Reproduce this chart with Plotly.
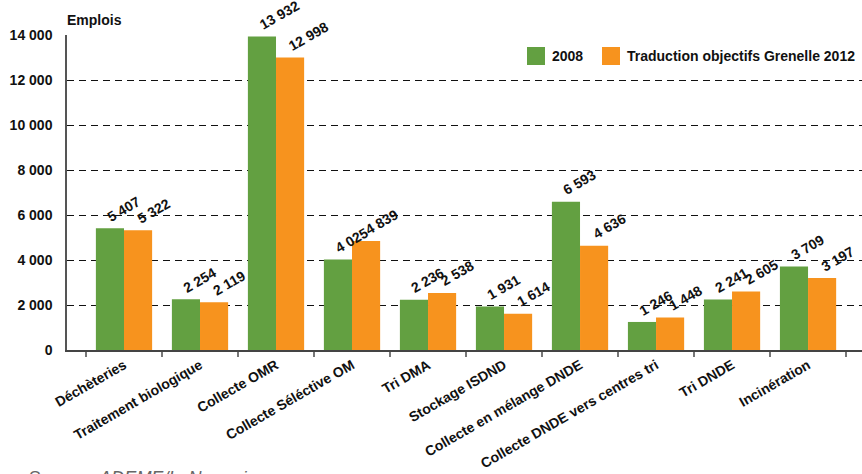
import plotly.graph_objects as go

categories = ["Déchèteries", "Traitement biologique", "Collecte OMR", "Collecte Séléctive OM",
              "Tri DMA", "Stockage ISDND", "Collecte en mélange DNDE",
              "Collecte DNDE vers centres tri", "Tri DNDE", "Incinération"]
series_names = ["2008", "Traduction objectifs Grenelle 2012"]
values_2008 = [5407, 2254, 13932, 4025, 2236, 1931, 6593, 1246, 2241, 3709]
values_2012 = [5322, 2119, 12998, 4839, 2538, 1614, 4636, 1448, 2605, 3197]
y_tickvals = [0, 2000, 4000, 6000, 8000, 10000, 12000, 14000]
y_ticktext = ["0", "2 000", "4 000", "6 000", "8 000", "10 000", "12 000", "14 000"]
colors = ["#63a041", "#f7931e"]
FONT = "Liberation Sans, Arial, sans-serif"


def fmt(v):
    return f"{v:,}".replace(",", " ")


fig = go.Figure()
for name, vals, col in zip(series_names, [values_2008, values_2012], colors):
    fig.add_trace(go.Bar(
        x=categories, y=vals, name=name, marker_color=col, marker_line_width=0,
        showlegend=False,
    ))

# value labels (rotated)
for si, (vals, dx) in enumerate(zip([values_2008, values_2012], [-0.29, 0.10])):
    for i, v in enumerate(vals):
        fig.add_annotation(x=i + dx, y=v, xref="x", yref="y", text=f"<b>{fmt(v)}</b>",
                           showarrow=False, textangle=-30, xanchor="left", yanchor="bottom",
                           yshift=1, font=dict(family=FONT, size=14, color="#111"))

# manual legend
leg_x = [527, 602]
for name, col, lx in zip(series_names, colors, leg_x):
    fig.add_shape(type="rect", xref="paper", yref="paper",
                  x0=(lx - 67) / 795, x1=(lx + 18 - 67) / 795,
                  y0=(350 - 65) / 315, y1=(350 - 47) / 315,
                  fillcolor=col, line_width=0)
    fig.add_annotation(xref="paper", yref="paper", x=(lx + 23 - 67) / 795, y=(350 - 56) / 315,
                       text=f"<b>{name}</b>", showarrow=False, xanchor="left", yanchor="middle",
                       font=dict(family=FONT, size=14, color="#111"))

fig.add_annotation(xref="paper", yref="paper", x=-0.002, y=1.0, yshift=5,
                   text="<b>Emplois</b>", showarrow=False, xanchor="left", yanchor="bottom",
                   font=dict(family=FONT, size=14, color="#111"))

fig.add_annotation(xref="paper", yref="paper", x=(26 - 67) / 795, y=(350 - 466) / 315,
                   text="<i>Source : ADEME/In Numeri</i>", showarrow=False,
                   xanchor="left", yanchor="top",
                   font=dict(family=FONT, size=18, color="#666"))

fig.update_layout(
    width=862, height=474,
    margin=dict(l=67, r=0, t=35, b=124),
    paper_bgcolor="white", plot_bgcolor="white",
    barmode="group", bargap=0.26, bargroupgap=0,
    font=dict(family=FONT, color="#111"),
)
fig.update_xaxes(
    range=[-0.75, 9.71], tickson="boundaries", ticks="outside", ticklen=5, tickcolor="#777",
    tickwidth=1.5, showline=True, linecolor="#444", linewidth=1.5, showgrid=False,
    tickangle=-30, tickfont=dict(family=FONT, size=14, color="#111"), automargin=False,
    tickvals=categories, ticktext=[f"<b>{c}</b>" for c in categories],
)
fig.update_yaxes(
    range=[0, 14000], tickvals=y_tickvals, ticktext=[f"<b>{t}</b>" for t in y_ticktext],
    showgrid=True, gridcolor="#111", griddash="7px,5px", gridwidth=1,
    showline=True, linecolor="#555", linewidth=1.5, zeroline=False, automargin=False,
    tickfont=dict(family=FONT, size=14, color="#111"), ticks="", ticklabelstandoff=10,
)

fig.write_html("out.html", config={"displayModeBar": False},
               post_script="document.body.style.margin='0';document.body.style.overflow='hidden';")
